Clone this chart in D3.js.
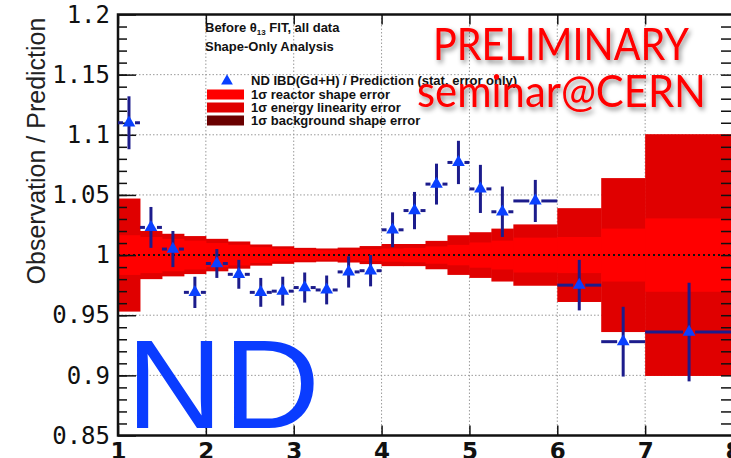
<!DOCTYPE html>
<html>
<head>
<meta charset="utf-8">
<script src="https://cdn.jsdelivr.net/npm/d3@7"></script>
<style>
  html, body { margin: 0; padding: 0; background: #fff; }
  svg { display: block; }
</style>
</head>
<body>
<svg id="chart" width="731" height="458"></svg>
<script>
// Bin edges in visible energy (MeV); shared by data points and systematic bands
const binEdges = [1, 1.25, 1.5, 1.75, 2, 2.25, 2.5, 2.75, 3, 3.25, 3.5, 3.75, 4,
                  4.25, 4.5, 4.75, 5, 5.25, 5.5, 6, 6.5, 7, 8];

// ND IBD(Gd+H) / Prediction ratio per bin, with statistical error
const ratio = [1.110, 1.023, 1.005, 0.969, 0.993, 0.984, 0.969, 0.970, 0.973, 0.971,
               0.986, 0.987, 1.021, 1.037, 1.059, 1.077, 1.055, 1.036, 1.045, 0.975,
               0.928, 0.936];
const statErr = [0.022, 0.017, 0.015, 0.013, 0.012, 0.012, 0.012, 0.012, 0.0125, 0.012,
                 0.013, 0.013, 0.0145, 0.0155, 0.017, 0.018, 0.020, 0.021, 0.0175, 0.021,
                 0.029, 0.041];

// 1 sigma bands around unity (half-widths)
const linearityBand = [0.047, 0.020, 0.0177, 0.0158, 0.0135, 0.0113, 0.0088, 0.0073, 0.0060,
                       0.0055, 0.0062, 0.0075, 0.0092, 0.0092, 0.0118, 0.0165, 0.019, 0.022,
                       0.0255, 0.039, 0.064, 0.1005];
const reactorBand = [0.0165, 0.015, 0.0135, 0.012, 0.010, 0.0086, 0.0066, 0.0053, 0.0044,
                     0.004, 0.0042, 0.0048, 0.0055, 0.006, 0.0072, 0.0085, 0.0105, 0.012,
                     0.0145, 0.015, 0.022, 0.0305];

const xTicks = [1, 2, 3, 4, 5, 6, 7, 8];
const yTicks = [0.85, 0.9, 0.95, 1, 1.05, 1.1, 1.15, 1.2];
const yTickLabels = ["0.85", "0.9", "0.95", "1", "1.05", "1.1", "1.15", "1.2"];
const yMinorTicks = d3.range(86, 120).map(v => v / 100);

const legendEntries = [
  { kind: "marker", label: "ND IBD(Gd+H) / Prediction (stat. error only)" },
  { kind: "box", color: "#ff0000", label: "1\u03c3 reactor shape error" },
  { kind: "box", color: "#e00000", label: "1\u03c3 energy linearity error" },
  { kind: "box", color: "#6a0000", label: "1\u03c3 background shape error" }
];

const svg = d3.select("#chart");
const x = d3.scaleLinear().domain([1, 8]).range([118, 733]);
const y = d3.scaleLinear().domain([0.85, 1.2]).range([435.5, 14.5]);

const defs = svg.append("defs");
const shadow = defs.append("filter").attr("id", "shadow")
  .attr("x", "-10%").attr("y", "-20%").attr("width", "130%").attr("height", "160%");
shadow.append("feDropShadow").attr("dx", 2).attr("dy", 3).attr("stdDeviation", 2.5)
  .attr("flood-color", "#000").attr("flood-opacity", 0.45);

const bins = ratio.map((r, i) => ({
  x0: binEdges[i], x1: binEdges[i + 1], xc: (binEdges[i] + binEdges[i + 1]) / 2,
  r, e: statErr[i], lin: linearityBand[i], rea: reactorBand[i]
}));

// grid
const grid = svg.append("g").attr("stroke", "#9a9a9a").attr("stroke-width", 1)
  .attr("stroke-dasharray", "1.5,2");
grid.selectAll("line.gx").data(xTicks.slice(1, -1)).join("line")
  .attr("x1", d => x(d)).attr("x2", d => x(d)).attr("y1", y(1.2)).attr("y2", y(0.85));
grid.selectAll("line.gy").data(yTicks.filter(v => v > 0.85 && v < 1.2 && v !== 1)).join("line")
  .attr("x1", x(1)).attr("x2", x(8)).attr("y1", d => y(d)).attr("y2", d => y(d));

// systematic bands
svg.append("g").selectAll("rect").data(bins).join("rect")
  .attr("x", d => x(d.x0)).attr("width", d => x(d.x1) - x(d.x0) + 0.5)
  .attr("y", d => y(1 + d.lin)).attr("height", d => y(1 - d.lin) - y(1 + d.lin))
  .attr("fill", "#e00000");
svg.append("g").selectAll("rect").data(bins).join("rect")
  .attr("x", d => x(d.x0)).attr("width", d => x(d.x1) - x(d.x0) + 0.5)
  .attr("y", d => y(1 + d.rea)).attr("height", d => y(1 - d.rea) - y(1 + d.rea))
  .attr("fill", "#ff0000");

// unity line
svg.append("line").attr("x1", x(1)).attr("x2", x(8)).attr("y1", y(1)).attr("y2", y(1))
  .attr("stroke", "#111").attr("stroke-width", 2).attr("stroke-dasharray", "2,3");

// axes
const yAxis = svg.append("g").attr("transform", `translate(${x(1)},0)`)
  .call(d3.axisLeft(y).tickValues(yTicks).tickSize(-18).tickPadding(8)
    .tickFormat((d, i) => yTickLabels[i]));
yAxis.select(".domain").remove();
yAxis.selectAll("text").attr("font-family", "'DejaVu Sans Mono', monospace")
  .attr("font-size", 24).attr("fill", "#111");
yAxis.selectAll("line").attr("stroke", "#111").attr("stroke-width", 1.5);

const yMinor = svg.append("g").attr("transform", `translate(${x(1)},0)`)
  .call(d3.axisLeft(y).tickValues(yMinorTicks).tickSize(-9).tickFormat(""));
yMinor.select(".domain").remove();
yMinor.selectAll("line").attr("stroke", "#111").attr("stroke-width", 1.5);

const yRight = svg.append("g").attr("transform", `translate(${x(8)},0)`)
  .call(d3.axisRight(y).tickValues(yMinorTicks).tickSize(-12).tickFormat(""));
yRight.select(".domain").remove();
yRight.selectAll("line").attr("stroke", "#111").attr("stroke-width", 1.5);

const xAxis = svg.append("g").attr("transform", `translate(0,${y(0.85)})`)
  .call(d3.axisBottom(x).tickValues(xTicks).tickSize(-10).tickPadding(7).tickFormat(d3.format("d")));
xAxis.select(".domain").remove();
xAxis.selectAll("text").attr("font-family", "'DejaVu Sans', sans-serif").attr("font-weight", "bold")
  .attr("font-size", 23).attr("fill", "#111");
xAxis.selectAll("line").attr("stroke", "#111").attr("stroke-width", 1.5);

const xTop = svg.append("g").attr("transform", `translate(0,${y(1.2)})`)
  .call(d3.axisTop(x).tickValues(xTicks).tickSize(-10).tickFormat(""));
xTop.select(".domain").remove();
xTop.selectAll("line").attr("stroke", "#111").attr("stroke-width", 1.5);

// frame
svg.append("path")
  .attr("d", `M${x(8)},${y(1.2)}H${x(1)}V${y(0.85)}H${x(8)}`)
  .attr("fill", "none").attr("stroke", "#111").attr("stroke-width", 2.5);

// y title
svg.append("text")
  .attr("transform", `translate(45,151) rotate(-90)`)
  .attr("text-anchor", "middle")
  .attr("font-family", "'Liberation Sans', Arial, sans-serif").attr("font-size", 25)
  .attr("fill", "#222")
  .text("Observation / Prediction");

// data points
const gap = 6;
const pts = svg.append("g").attr("stroke", "#1c1c8c").attr("stroke-width", 3);
pts.selectAll("line.v").data(bins).join("line").attr("class", "v")
  .attr("x1", d => x(d.xc)).attr("x2", d => x(d.xc))
  .attr("y1", d => y(d.r + d.e)).attr("y2", d => y(d.r - d.e));
pts.selectAll("line.l").data(bins).join("line").attr("class", "l")
  .attr("x1", d => x(d.x0)).attr("x2", d => x(d.xc) - gap)
  .attr("y1", d => y(d.r)).attr("y2", d => y(d.r));
pts.selectAll("line.r").data(bins).join("line").attr("class", "r")
  .attr("x1", d => x(d.xc) + gap).attr("x2", d => x(d.x1))
  .attr("y1", d => y(d.r)).attr("y2", d => y(d.r));

const tri = d3.symbol().type(d3.symbolTriangle).size(70);
svg.append("g").selectAll("path").data(bins).join("path")
  .attr("d", tri)
  .attr("transform", d => `translate(${x(d.xc)},${y(d.r)})`)
  .attr("fill", "#0a40ff");

// header and legend
const lf = "'Liberation Sans', Arial, sans-serif";
const hdr = svg.append("g").attr("font-family", lf).attr("font-weight", "bold")
  .attr("font-size", 13).attr("fill", "#111");
const h1 = hdr.append("text").attr("x", 205).attr("y", 32);
h1.append("tspan").text("Before \u03b8");
h1.append("tspan").attr("font-size", 8).attr("dy", 3).text("13");
h1.append("tspan").attr("dy", -3).text(" FIT, all data");
hdr.append("text").attr("x", 205).attr("y", 51).text("Shape-Only Analysis");

const leg = svg.append("g").attr("font-family", lf).attr("font-weight", "bold")
  .attr("font-size", 13).attr("fill", "#111");
const legY = [85, 99, 112, 125];
legendEntries.forEach((e, i) => {
  const row = leg.append("g");
  if (e.kind === "marker") {
    row.append("path").attr("d", d3.symbol().type(d3.symbolTriangle).size(60))
      .attr("transform", `translate(227,${legY[i] - 4})`).attr("fill", "#0a40ff");
  } else {
    row.append("rect").attr("x", 207).attr("y", legY[i] - 9.5).attr("width", 37).attr("height", 10)
      .attr("fill", e.color);
  }
  row.append("text").attr("x", 251).attr("y", legY[i]).text(e.label);
});

// overlay labels
const over = svg.append("g").attr("font-family", "Lato, 'Open Sans', sans-serif")
  .attr("fill", "#ff0000").attr("filter", "url(#shadow)");
over.append("text").attr("x", 433).attr("y", 60).attr("font-size", 45)
  .attr("textLength", 256).attr("lengthAdjust", "spacingAndGlyphs").text("PRELIMINARY");
over.append("text").attr("x", 417).attr("y", 107).attr("font-size", 45)
  .attr("textLength", 289).attr("lengthAdjust", "spacingAndGlyphs").text("seminar@CERN");

svg.append("text").attr("x", 126).attr("y", 428)
  .attr("font-family", "'Liberation Sans', Arial, sans-serif").attr("font-size", 126)
  .attr("textLength", 194).attr("lengthAdjust", "spacingAndGlyphs")
  .attr("fill", "#0a3cff").text("ND");
</script>
</body>
</html>
